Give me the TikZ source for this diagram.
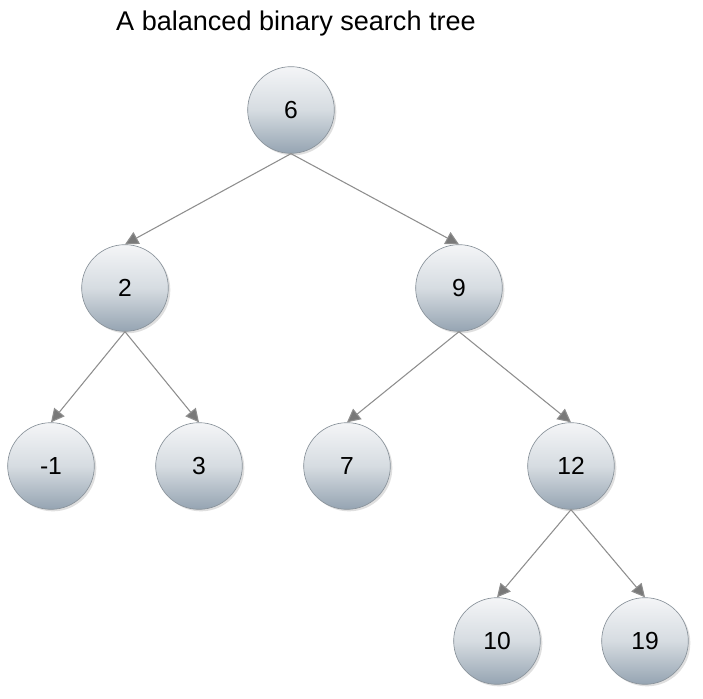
\documentclass[tikz,border=0pt]{standalone}
\usepackage{fontspec}
\setmainfont{Liberation Sans}
\usetikzlibrary{arrows.meta,shadows}
\definecolor{balltop}{HTML}{F4F5F7}
\definecolor{ballmid}{HTML}{D6DCE1}
\definecolor{ballbottom}{HTML}{95A4B2}
\definecolor{ballrim}{HTML}{8A939B}
\definecolor{edgegray}{HTML}{8E8E8E}
\tikzset{
  keynode/.style={circle,draw=ballrim,line width=0.5pt,minimum size=65pt,
    top color=balltop,bottom color=ballbottom,middle color=ballmid,
    drop shadow={shadow xshift=1.5pt,shadow yshift=-1.5pt,opacity=0.25},
    font=\fontsize{18.5}{21}\selectfont,inner sep=0pt},
  treeedge/.style={draw=edgegray,line width=0.8pt,
    -{Triangle[length=10pt,width=10pt,fill=edgegray!85!black]}}
}
\begin{document}
\begin{tikzpicture}[x=0.75pt,y=-0.75pt]
\useasboundingbox (0,0) rectangle (703,699);

\node[font=\fontsize{20.3}{22}\selectfont] (title) at (296,24) {A balanced binary search tree};

\node[keynode] (n6) at (291,110) {6};
\node[keynode] (n2) at (125,288) {2};
\node[keynode] (n9) at (459,288) {9};
\node[keynode] (m1) at (51,466) {-1};
\node[keynode] (n3) at (199,466) {3};
\node[keynode] (n7) at (347,466) {7};
\node[keynode] (n12) at (571,466) {12};
\node[keynode] (n10) at (497,641) {10};
\node[keynode] (n19) at (645,641) {19};

\draw[treeedge] (n6.south) -- (n2.north);
\draw[treeedge] (n6.south) -- (n9.north);
\draw[treeedge] (n2.south) -- (m1.north);
\draw[treeedge] (n2.south) -- (n3.north);
\draw[treeedge] (n9.south) -- (n7.north);
\draw[treeedge] (n9.south) -- (n12.north);
\draw[treeedge] (n12.south) -- (n10.north);
\draw[treeedge] (n12.south) -- (n19.north);
\end{tikzpicture}
\end{document}
